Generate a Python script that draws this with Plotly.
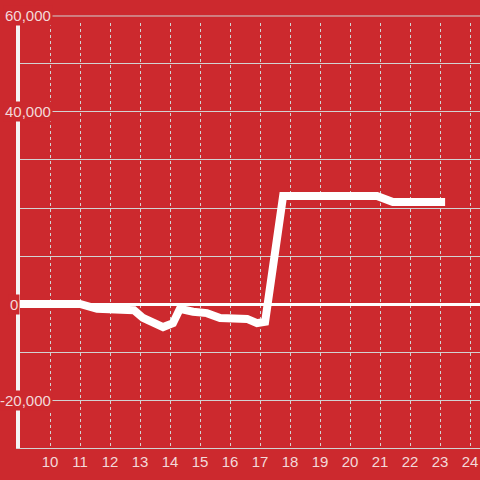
import plotly.graph_objects as go

# ─────────────────────────────────────────────
# Data
# ─────────────────────────────────────────────
HOURS = [9, 11, 11.57, 12, 12.8, 13.1, 13.77, 14.1, 14.33, 14.77, 15.23, 15.67,
         16.57, 16.9, 17.17, 17.77, 20.9, 21.43, 23.17]
VALUES = [0, 0, -1000, -1100, -1300, -2900, -4800, -4000, -1000, -1600, -1900, -2900,
          -3100, -4000, -3700, 22500, 22500, 21250, 21250]
X_TICKS = list(range(10, 25))
Y_LABELS = [(60000, "60,000"), (40000, "40,000"), (0, "0"), (-20000, "-20,000")]

BG = "#CC292E"
TEXT = "#F3D9DA"
GRID = "#D2D2D2"

fig = go.Figure(go.Scatter(
    x=HOURS, y=VALUES, mode="lines",
    line=dict(color="white", width=8),
    hoverinfo="skip",
))

fig.update_xaxes(
    range=[9, 24.333], tickvals=X_TICKS,
    showgrid=True, gridcolor=GRID, gridwidth=1, griddash="dot",
    showline=True, linecolor=GRID, linewidth=1,
    ticks="", tickfont=dict(size=15, color=TEXT),
    zeroline=False, automargin=False,
)
fig.update_yaxes(
    range=[-30000, 58540], dtick=10000,
    showgrid=True, gridcolor=GRID, gridwidth=1,
    showline=True, linecolor="#F4F4F4", linewidth=4,
    zeroline=True, zerolinecolor="white", zerolinewidth=3,
    showticklabels=False, ticks="", automargin=False,
)

# top gridline at 60,000 sits just above the plot area
fig.add_shape(type="line", xref="paper", yref="paper",
              x0=0, x1=1, y0=1.0165, y1=1.0165,
              line=dict(color=GRID, width=1))

for val, txt in Y_LABELS:
    yref, yv = ("paper", 1.0165) if val == 60000 else ("y", val)
    if val == 0:
        anchor, shift = "left", -12
    else:
        anchor, shift = "right", 33
    fig.add_annotation(x=0, xref="paper", y=yv, yref=yref, text=txt,
                       xanchor=anchor, yanchor="middle", xshift=shift, showarrow=False,
                       font=dict(size=15, color=TEXT), bgcolor=BG, borderpad=1)

fig.update_layout(
    width=480, height=480,
    paper_bgcolor=BG, plot_bgcolor=BG,
    margin=dict(l=20, r=0, t=23, b=32, autoexpand=False),
    font=dict(family="Liberation Sans, Arial, sans-serif"),
    showlegend=False,
)

fig.write_html(
    "out.html",
    config={"displayModeBar": False},
    post_script="document.body.style.margin='0';document.body.style.overflow='hidden';",
)
